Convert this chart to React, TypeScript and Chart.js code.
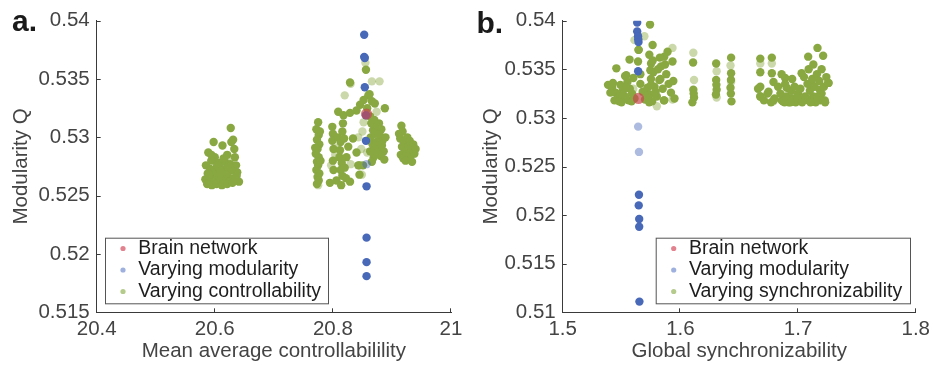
import React, { useEffect, useRef } from "react";
import { Chart, registerables } from "chart.js";

Chart.register(...registerables);

type Pt = [number, number];

// ---------------- Panel a data ----------------
const aXTicks = [20.4, 20.6, 20.8, 21];
const aYTicks = [0.515, 0.52, 0.525, 0.53, 0.535, 0.54];
const aBrain: Pt[] = [[20.857, 0.532]];
const aModularity: Pt[] = [
  [20.853, 0.5388], [20.853, 0.5369], [20.854, 0.5368], [20.854, 0.5343],
  [20.856, 0.5319], [20.856, 0.5297], [20.857, 0.5258], [20.857, 0.5214],
  [20.857, 0.5193], [20.857, 0.5181],
];
const aModularityLight: Pt[] = [[20.857, 0.5277]];
const aControl: Pt[] = [
  // cluster near 20.6
  [20.627, 0.5308], [20.598, 0.5296], [20.613, 0.5293], [20.628, 0.5296], [20.631, 0.5298],
  [20.589, 0.5287], [20.6, 0.5283], [20.621, 0.5285], [20.634, 0.5283], [20.594, 0.528],
  [20.606, 0.5278], [20.617, 0.5279], [20.626, 0.5277], [20.636, 0.5276], [20.585, 0.5276],
  [20.592, 0.5273], [20.6, 0.5272], [20.609, 0.5274], [20.619, 0.5271], [20.629, 0.5272],
  [20.638, 0.527], [20.588, 0.5269], [20.596, 0.5267], [20.604, 0.5268], [20.613, 0.5266],
  [20.622, 0.5267], [20.632, 0.5265], [20.584, 0.5264], [20.591, 0.5263], [20.599, 0.5262],
  [20.608, 0.5263], [20.616, 0.5261], [20.625, 0.5262], [20.635, 0.5263], [20.641, 0.5262],
  [20.587, 0.526], [20.595, 0.5259], [20.603, 0.526], [20.612, 0.5259], [20.621, 0.526],
  [20.63, 0.5261], [20.61, 0.5271], [20.594, 0.5285], [20.633, 0.529], [20.615, 0.5282],
  [20.622, 0.5275], [20.604, 0.5276], [20.59, 0.5268], [20.637, 0.5267],
  // column near 20.775
  [20.775, 0.5313], [20.772, 0.5307], [20.776, 0.5302], [20.773, 0.5298], [20.777, 0.5294],
  [20.774, 0.529], [20.771, 0.5286], [20.776, 0.5283], [20.773, 0.5279], [20.775, 0.5276],
  [20.772, 0.5272], [20.777, 0.5269], [20.774, 0.5266], [20.776, 0.5263], [20.773, 0.526],
  [20.778, 0.5305], [20.77, 0.5291], [20.779, 0.528],
  // cluster 20.79 - 20.845
  [20.799, 0.5309], [20.8, 0.5303], [20.799, 0.5297], [20.801, 0.529], [20.809, 0.5322],
  [20.818, 0.5319], [20.817, 0.5312], [20.816, 0.5305], [20.813, 0.5296], [20.812, 0.5289],
  [20.811, 0.5283], [20.8, 0.528], [20.801, 0.5272], [20.815, 0.5278], [20.813, 0.5272],
  [20.816, 0.5267], [20.795, 0.5261], [20.806, 0.5263], [20.814, 0.5259], [20.829, 0.5262],
  [20.822, 0.5265], [20.834, 0.5299], [20.84, 0.5287], [20.843, 0.5276], [20.845, 0.5268],
  [20.826, 0.5292], [20.823, 0.5283], [20.808, 0.53], [20.819, 0.5299], [20.82, 0.5274],
  // cluster 20.845 - 20.89
  [20.856, 0.5358], [20.829, 0.5347], [20.86, 0.5336], [20.852, 0.5332], [20.846, 0.5328],
  [20.871, 0.5329], [20.888, 0.5325], [20.863, 0.5318], [20.84, 0.5323], [20.829, 0.5321],
  [20.858, 0.5325], [20.866, 0.5331], [20.862, 0.5337], [20.865, 0.5312], [20.868, 0.5306],
  [20.864, 0.53], [20.867, 0.5294], [20.863, 0.5288], [20.869, 0.5283], [20.866, 0.5279],
  [20.878, 0.5312], [20.882, 0.5307], [20.879, 0.5302], [20.884, 0.5297], [20.88, 0.5292],
  [20.886, 0.5288], [20.881, 0.5284], [20.887, 0.5281], [20.874, 0.5296], [20.876, 0.5286],
  [20.872, 0.5303], [20.889, 0.53], [20.851, 0.5276], [20.845, 0.5276], [20.87, 0.5315],
  [20.876, 0.5309], [20.883, 0.5293], [20.87, 0.529],
  // cluster near 20.92
  [20.916, 0.531], [20.918, 0.5305], [20.914, 0.5299], [20.92, 0.5296], [20.917, 0.5292],
  [20.922, 0.5288], [20.915, 0.5285], [20.919, 0.5282], [20.926, 0.53], [20.93, 0.5297],
  [20.928, 0.5292], [20.933, 0.5289], [20.936, 0.5294], [20.925, 0.5285], [20.931, 0.5283],
  [20.94, 0.529], [20.938, 0.5286], [20.923, 0.528], [20.934, 0.5279], [20.912, 0.5303],
];
const aControlLight: Pt[] = [
  [20.83, 0.5346], [20.82, 0.5336], [20.804, 0.5285], [20.797, 0.5276], [20.83, 0.5277],
  [20.855, 0.5364], [20.85, 0.5305], [20.848, 0.529], [20.849, 0.5268], [20.866, 0.5348],
  [20.879, 0.5348], [20.874, 0.5322], [20.852, 0.5313], [20.628, 0.5281], [20.775, 0.5259],
  [20.806, 0.5291], [20.858, 0.5287], [20.843, 0.53],
];

// ---------------- Panel b data ----------------
const bXTicks = [1.5, 1.6, 1.7, 1.8];
const bYTicks = [0.51, 0.515, 0.52, 0.525, 0.53, 0.535, 0.54];
const bBrain: Pt[] = [[1.5644, 0.532]];
const bModularity: Pt[] = [
  [1.5633, 0.5398], [1.5633, 0.5389], [1.564, 0.5384], [1.5642, 0.5381], [1.5644, 0.5378],
  [1.5641, 0.5348], [1.5648, 0.5221], [1.5646, 0.521], [1.565, 0.5196], [1.565, 0.5188],
  [1.5652, 0.5111],
];
const bModularityLight: Pt[] = [[1.5641, 0.5291], [1.5648, 0.5265]];
const bSync: Pt[] = [
  // left cluster
  [1.5742, 0.5396], [1.5764, 0.5375], [1.5646, 0.537], [1.5736, 0.5365], [1.5863, 0.5363],
  [1.5891, 0.5368], [1.5568, 0.536], [1.5456, 0.5351], [1.554, 0.5344], [1.5751, 0.5356],
  [1.5835, 0.5353], [1.5933, 0.5358], [1.5644, 0.537],
  [1.5385, 0.5334], [1.542, 0.5331], [1.545, 0.5326], [1.547, 0.5321], [1.544, 0.5318],
  [1.549, 0.5334], [1.551, 0.5328], [1.553, 0.5322], [1.55, 0.5316], [1.555, 0.5337],
  [1.557, 0.533], [1.559, 0.5325], [1.556, 0.5318], [1.553, 0.5343], [1.56, 0.5341],
  [1.561, 0.532], [1.566, 0.5335], [1.568, 0.5327], [1.57, 0.5319], [1.572, 0.5331],
  [1.574, 0.5324], [1.576, 0.5317], [1.575, 0.534], [1.577, 0.5347], [1.566, 0.5345],
  [1.578, 0.5332], [1.58, 0.5322], [1.583, 0.534], [1.585, 0.533], [1.586, 0.5318],
  [1.588, 0.5345], [1.59, 0.5335], [1.592, 0.5326], [1.594, 0.5338], [1.595, 0.532],
  [1.587, 0.5355], [1.581, 0.535], [1.564, 0.5358], [1.5427, 0.5336], [1.5511, 0.5324],
  [1.5751, 0.5334], [1.5821, 0.5339], [1.5863, 0.5318], [1.5405, 0.5326], [1.548, 0.5317],
  [1.5535, 0.5331], [1.5585, 0.5317], [1.5715, 0.5323], [1.5735, 0.5316], [1.579, 0.5327],
  [1.5745, 0.5349], [1.5765, 0.5359], [1.5825, 0.5362],
  // columns
  [1.6108, 0.5357], [1.611, 0.5329], [1.6116, 0.5321], [1.6102, 0.5316], [1.6113, 0.5325],
  [1.6304, 0.5356], [1.6304, 0.5339], [1.6308, 0.5329], [1.6306, 0.5334], [1.6302, 0.5324],
  [1.6431, 0.5362], [1.6431, 0.5346], [1.6426, 0.5331], [1.6434, 0.5317], [1.643, 0.5339],
  [1.6429, 0.5325],
  // right cluster
  [1.6679, 0.5361], [1.6777, 0.5362], [1.6679, 0.5347], [1.6679, 0.5332], [1.6679, 0.5322],
  [1.6777, 0.5346], [1.6791, 0.5337], [1.6749, 0.5327], [1.6791, 0.5318], [1.689, 0.5341],
  [1.6903, 0.5331], [1.6945, 0.532], [1.6861, 0.5318], [1.703, 0.5346], [1.7086, 0.5363],
  [1.7165, 0.5372], [1.7213, 0.5364], [1.7114, 0.5336], [1.7185, 0.5329], [1.7255, 0.5336],
  [1.7128, 0.5322], [1.7227, 0.5318], [1.7086, 0.5318], [1.7002, 0.5318],
  [1.666, 0.533], [1.668, 0.5322], [1.671, 0.5318], [1.674, 0.5325], [1.677, 0.5316],
  [1.68, 0.532], [1.683, 0.5332], [1.685, 0.5325], [1.687, 0.5317], [1.69, 0.5322],
  [1.692, 0.5316], [1.694, 0.5328], [1.696, 0.532], [1.698, 0.5316], [1.7, 0.5325],
  [1.702, 0.533], [1.704, 0.5318], [1.706, 0.5322], [1.708, 0.5335], [1.71, 0.5328],
  [1.712, 0.534], [1.714, 0.5332], [1.716, 0.5345], [1.718, 0.5338], [1.72, 0.5325],
  [1.722, 0.5332], [1.724, 0.5342], [1.726, 0.5336], [1.719, 0.5318], [1.715, 0.5316],
  [1.723, 0.5316], [1.689, 0.5335], [1.686, 0.5345], [1.695, 0.534], [1.697, 0.5332],
  [1.705, 0.5342], [1.709, 0.535], [1.713, 0.5355], [1.72, 0.535], [1.6935, 0.5316],
  [1.6995, 0.5321], [1.7035, 0.5316], [1.7105, 0.5316], [1.7165, 0.5322], [1.6885, 0.5316],
];
const bSyncLight: Pt[] = [
  [1.5694, 0.5384], [1.561, 0.538], [1.5933, 0.5372], [1.611, 0.5367], [1.6116, 0.5339],
  [1.6308, 0.5348], [1.6308, 0.5321], [1.6426, 0.5354], [1.6431, 0.5337], [1.6679, 0.5356],
  [1.6777, 0.5356], [1.58, 0.5312], [1.679, 0.5317], [1.713, 0.532], [1.56, 0.533],
  [1.5933, 0.5319],
];

const legendLabelsA = ["Brain network", "Varying modularity", "Varying controllability"];
const legendLabelsB = ["Brain network", "Varying modularity", "Varying synchronizability"];

// ---------------- styling ----------------
const FONT = "'Liberation Sans', Arial, Helvetica, sans-serif";
const AXIS = "#3a3a3a";
const TEXT = "#444444";
const GREEN = "rgb(137,168,66)";
const GREEN_LIGHT = "rgba(137,168,66,0.45)";
const BLUE = "rgb(72,104,184)";
const BLUE_LIGHT = "rgba(72,104,184,0.45)";
const RED = "rgba(200,72,78,0.7)";
const LEGEND_COLORS = ["#E2828F", "#9DB0DE", "#B5CB8C"];

interface Spec {
  label: string;
  labelX: number;
  labelY: number;
  left: number;
  width: number;
  yAxisWidth: number;
  rightPad: number;
  xTicks: number[];
  yTicks: number[];
  xTitle: string;
  brain: Pt[];
  blue: Pt[];
  blueLight: Pt[];
  green: Pt[];
  greenLight: Pt[];
  legendLabels: string[];
  legendX: number;
  legendW: number;
}

const H = 365;
const TOP = 20.7;
const X_AXIS_H = 52.7;

function ds(pts: Pt[], color: string, r: number, order: number) {
  return {
    data: pts.map(([x, y]) => ({ x, y })),
    backgroundColor: color,
    borderWidth: 0,
    pointRadius: r,
    pointHoverRadius: r,
    pointBorderWidth: 0,
    order,
  };
}

function Panel({ spec }: { spec: Spec }) {
  const ref = useRef<HTMLCanvasElement>(null);
  useEffect(() => {
    const s = spec;
    const decor = {
      id: "decor" + s.label,
      afterDraw(chart: any) {
        const ctx = chart.ctx as CanvasRenderingContext2D;
        const xs = chart.scales.x;
        const ys = chart.scales.y;
        const { left, bottom } = chart.chartArea;
        ctx.save();
        // inward tick marks
        ctx.strokeStyle = AXIS;
        ctx.lineWidth = 1;
        ctx.beginPath();
        for (const t of xs.ticks) {
          const px = Math.round(xs.getPixelForValue(t.value)) - 0.5;
          ctx.moveTo(px, bottom);
          ctx.lineTo(px, bottom - 4);
        }
        for (const t of ys.ticks) {
          const py = Math.round(ys.getPixelForValue(t.value)) + 0.5;
          ctx.moveTo(left, py);
          ctx.lineTo(left + 4, py);
        }
        ctx.stroke();
        // legend box
        const bx = s.legendX, by = 237.7, bw = s.legendW, bh = 65.6;
        ctx.fillStyle = "#ffffff";
        ctx.fillRect(bx, by, bw, bh);
        ctx.strokeStyle = "#555555";
        ctx.strokeRect(bx + 0.5, by + 0.5, bw, bh);
        const rows = [248.5, 270, 291.5];
        ctx.font = `19.5px ${FONT}`;
        ctx.textBaseline = "middle";
        ctx.textAlign = "left";
        s.legendLabels.forEach((lab, i) => {
          ctx.fillStyle = LEGEND_COLORS[i];
          ctx.beginPath();
          ctx.arc(bx + 18, rows[i], 2.6, 0, Math.PI * 2);
          ctx.fill();
          ctx.fillStyle = "#1e1e1e";
          ctx.fillText(lab, bx + 33.3, rows[i]);
        });
        // panel label
        ctx.font = `bold 30px ${FONT}`;
        ctx.textBaseline = "alphabetic";
        ctx.fillStyle = "#1a1a1a";
        ctx.fillText(s.label, s.labelX, s.labelY);
        ctx.restore();
      },
    };
    const tickFont = { family: FONT, size: 20.5 };
    const titleFont = { family: FONT, size: 20.5 };
    const chart = new Chart(ref.current as HTMLCanvasElement, {
      type: "scatter",
      data: {
        datasets: [
          ds(s.greenLight, GREEN_LIGHT, 4.2, 4),
          ds(s.green, GREEN, 4.2, 3),
          ds(s.blueLight, BLUE_LIGHT, 4.2, 2),
          ds(s.blue, BLUE, 4.2, 1),
          ds(s.brain, RED, 5.6, 0),
        ] as any,
      },
      options: {
        responsive: false,
        animation: false,
        events: [],
        layout: { padding: { top: TOP, right: s.rightPad, left: 0, bottom: 0 } },
        plugins: { legend: { display: false }, tooltip: { enabled: false } },
        scales: {
          x: {
            type: "linear",
            min: s.xTicks[0],
            max: s.xTicks[s.xTicks.length - 1],
            afterBuildTicks: (sc: any) => {
              sc.ticks = s.xTicks.map((v) => ({ value: v }));
            },
            afterFit: (sc: any) => {
              sc.height = X_AXIS_H;
            },
            grid: { display: false, drawTicks: false },
            border: { display: true, color: AXIS, width: 1 },
            ticks: {
              font: tickFont,
              color: TEXT,
              padding: 5,
              maxRotation: 0,
              autoSkip: false,
              callback: (v: any) => String(v),
            },
            title: {
              display: true,
              text: s.xTitle,
              font: titleFont,
              color: TEXT,
              padding: { top: 0, bottom: 1 },
            },
          },
          y: {
            type: "linear",
            min: s.yTicks[0],
            max: s.yTicks[s.yTicks.length - 1],
            afterBuildTicks: (sc: any) => {
              sc.ticks = s.yTicks.map((v) => ({ value: v }));
            },
            afterFit: (sc: any) => {
              sc.width = s.yAxisWidth;
            },
            grid: { display: false, drawTicks: false },
            border: { display: true, color: AXIS, width: 1 },
            ticks: {
              font: tickFont,
              color: TEXT,
              padding: 7,
              autoSkip: false,
              callback: (v: any) => String(v),
            },
            title: {
              display: true,
              text: "Modularity Q",
              font: titleFont,
              color: TEXT,
              padding: { top: 9.5, bottom: 0 },
            },
          },
        },
      },
      plugins: [decor],
    } as any);
    return () => chart.destroy();
  }, [spec]);
  return (
    <canvas
      ref={ref}
      width={spec.width}
      height={H}
      style={{ position: "absolute", left: spec.left, top: 0, width: spec.width, height: H }}
    />
  );
}

const specA: Spec = {
  label: "a.",
  labelX: 12,
  labelY: 30.7,
  left: 0,
  width: 470,
  yAxisWidth: 96.7,
  rightPad: 19,
  xTicks: aXTicks,
  yTicks: aYTicks,
  xTitle: "Mean average controllabilility",
  brain: aBrain,
  blue: aModularity,
  blueLight: aModularityLight,
  green: aControl,
  greenLight: aControlLight,
  legendLabels: legendLabelsA,
  legendX: 105,
  legendW: 223,
};

const specB: Spec = {
  label: "b.",
  labelX: 6.5,
  labelY: 33,
  left: 470,
  width: 465,
  yAxisWidth: 92.7,
  rightPad: 16.7,
  xTicks: bXTicks,
  yTicks: bYTicks,
  xTitle: "Global synchronizability",
  brain: bBrain,
  blue: bModularity,
  blueLight: bModularityLight,
  green: bSync,
  greenLight: bSyncLight,
  legendLabels: legendLabelsB,
  legendX: 185.7,
  legendW: 254.3,
};

export default function App() {
  return (
    <div style={{ position: "absolute", left: 0, top: 0, width: 935, height: H, background: "#fff" }}>
      <Panel spec={specA} />
      <Panel spec={specB} />
    </div>
  );
}
